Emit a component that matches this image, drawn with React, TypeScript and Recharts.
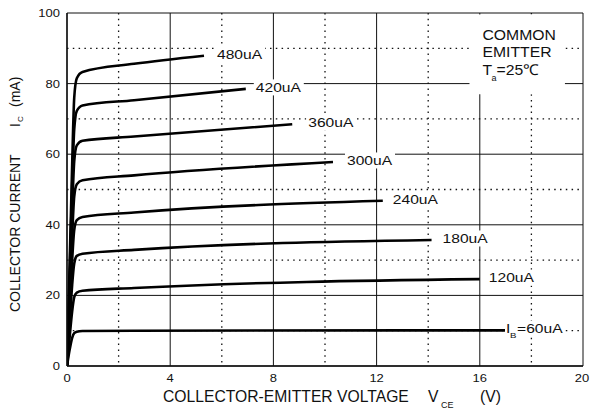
import { LineChart, Line, XAxis, YAxis, CartesianGrid, ReferenceArea } from 'recharts';

const FONT = '"Liberation Sans", Arial, Helvetica, sans-serif';

// V_CE (V), I_C (mA)
const CURVE_480 = [[0, 0], [0.1, 28], [0.2, 57], [0.28, 76], [0.38, 81.5], [0.6, 83.3], [2.6, 85.6], [5.31, 87.9]];
const CURVE_420 = [[0, 0], [0.1, 25], [0.2, 51], [0.28, 67], [0.38, 72.3], [0.6, 73.8], [2.6, 75.3], [6.93, 78.5]];
const CURVE_360 = [[0, 0], [0.1, 22], [0.2, 44], [0.28, 58], [0.38, 62.5], [0.6, 63.8], [2.6, 65.0], [8.73, 68.5]];
const CURVE_300 = [[0, 0], [0.1, 19], [0.2, 37], [0.28, 48], [0.38, 51.5], [0.6, 52.6], [2.6, 54.0], [10.31, 57.8]];
const CURVE_240 = [[0, 0], [0.1, 15], [0.2, 30], [0.28, 38.5], [0.38, 41.3], [0.6, 42.2], [2.6, 43.5], [12.24, 46.8]];
const CURVE_180 = [[0, 0], [0.1, 11.5], [0.2, 23], [0.28, 29], [0.38, 31.2], [0.6, 31.8], [2.6, 32.9], [14.13, 35.7]];
const CURVE_120 = [[0, 0], [0.1, 8], [0.2, 15.5], [0.28, 19.5], [0.38, 20.8], [0.6, 21.3], [2.6, 22.1], [16.0, 24.6]];
const CURVE_60 = [[0, 0], [0.1, 4.5], [0.2, 8], [0.28, 9.3], [0.38, 9.7], [0.6, 9.9], [2.6, 10.0], [16.98, 10.1]];

const CURVES = [CURVE_480, CURVE_420, CURVE_360, CURVE_300, CURVE_240, CURVE_180, CURVE_120, CURVE_60];
const IB_LABELS = ['480uA', '420uA', '360uA', '300uA', '240uA', '180uA', '120uA', 'I_B=60uA'];

const X_TICKS = [0, 4, 8, 12, 16, 20];
const Y_TICKS = [0, 20, 40, 60, 80, 100];
const X_MINOR = [2, 6, 10, 14, 18];
const Y_MINOR = [10, 30, 50, 70, 90];

// gap between end of curve and its label, px
const LABEL_DX = [13, 10, 16, 14, 10, 11, 9, 0];

const series = CURVES.map(pts => pts.map(([v, i]) => ({ v, i })));

function XTick({ x, y, payload }: any) {
  return (
    <text transform={`translate(${x},${y + 16}) scale(1.18,1)`} textAnchor="middle" fontSize={11} fontFamily={FONT} fill="#111">
      {payload.value}
    </text>
  );
}

function YTick({ x, y, payload }: any) {
  return (
    <text transform={`translate(${x - 7},${y + 4}) scale(1.18,1)`} textAnchor="end" fontSize={11} fontFamily={FONT} fill="#111">
      {payload.value}
    </text>
  );
}

function curveLabel(text: string, dx: number, last: number) {
  return (p: any) => {
    if (p.index !== last) return null;
    const x = p.x + dx;
    const y = p.y - 1.5;
    if (text.startsWith('I_B')) {
      const rest = text.slice(3);
      return (
        <g fontFamily={FONT} fill="#111">
          <rect x={x} y={y - 8} width={59} height={16} fill="#fff" />
          <text transform={`translate(${x + 1},${y + 4.5}) scale(1.2,1)`} fontSize={13}>I</text>
          <text transform={`translate(${x + 5},${y + 9}) scale(1.2,1)`} fontSize={8}>B</text>
          <text transform={`translate(${x + 12},${y + 4.5}) scale(1.2,1)`} fontSize={13}>{rest}</text>
        </g>
      );
    }
    return (
      <g fontFamily={FONT} fill="#111">
        <rect x={x - 2} y={y - 8} width={50} height={16} fill="#fff" />
        <text transform={`translate(${x},${y + 4.5}) scale(1.2,1)`} fontSize={13}>{text}</text>
      </g>
    );
  };
}

function NoteLabel({ viewBox }: any) {
  const { x, y } = viewBox;
  const tx = x + 13;
  return (
    <g fontFamily={FONT} fill="#111">
      <text transform={`translate(${tx},${y + 26}) scale(1.05,1)`} fontSize={15}>COMMON</text>
      <text transform={`translate(${tx},${y + 43}) scale(1.05,1)`} fontSize={15}>EMITTER</text>
      <text transform={`translate(${tx},${y + 61}) scale(1.05,1)`} fontSize={15}>T</text>
      <text transform={`translate(${tx + 9},${y + 67})`} fontSize={9}>a</text>
      <text transform={`translate(${tx + 14},${y + 61}) scale(1.05,1)`} fontSize={15}>=25℃</text>
    </g>
  );
}

function XTitle({ viewBox }: any) {
  const { x, y } = viewBox;
  return (
    <g fontFamily={FONT} fill="#111" fontSize={15.7}>
      <text x={x + 96} y={y + 36}>COLLECTOR-EMITTER VOLTAGE</text>
      <text x={x + 361} y={y + 36}>V</text>
      <text x={x + 374} y={y + 42} fontSize={9}>CE</text>
      <text x={x + 413} y={y + 36}>(V)</text>
    </g>
  );
}

function YTitle({ viewBox }: any) {
  const { x, y } = viewBox;
  return (
    <g transform={`translate(${x + 20},${y + 299}) rotate(-90)`} fontFamily={FONT} fill="#111" fontSize={14}>
      <text x={0} y={0}>COLLECTOR CURRENT</text>
      <text x={185} y={0}>I</text>
      <text x={190} y={3} fontSize={8}>C</text>
      <text x={205} y={0}>(mA)</text>
    </g>
  );
}

export default function App() {
  return (
    <div style={{ position: 'absolute', left: 0, top: 0, width: 590, height: 410, background: '#fff' }}>
      <LineChart width={590} height={410} margin={{ top: 13, right: 7, left: 0, bottom: 0 }}>
        <CartesianGrid stroke="#111" strokeWidth={1} horizontalValues={Y_TICKS} verticalValues={X_TICKS} />
        <CartesianGrid stroke="#111" strokeWidth={1.3} strokeDasharray="1.5 4.3" horizontalValues={Y_MINOR} verticalValues={X_MINOR} />
        <XAxis type="number" dataKey="v" domain={[0, 20]} ticks={X_TICKS} allowDataOverflow height={44}
          axisLine={{ stroke: '#111', strokeWidth: 1.4 }} tickLine={false} tickSize={0} tickMargin={0} tick={<XTick />}
          label={<XTitle />} />
        <YAxis type="number" dataKey="i" domain={[0, 100]} ticks={Y_TICKS} allowDataOverflow width={67}
          axisLine={{ stroke: '#111', strokeWidth: 1.4 }} tickLine={false} tickSize={0} tickMargin={0} tick={<YTick />}
          label={<YTitle />} />
        <ReferenceArea x1={15.6} x2={19.3} y1={77} y2={99.6} fill="#fff" fillOpacity={1} stroke="none" label={<NoteLabel />} />
        {series.map((d, k) => (
          <Line key={IB_LABELS[k]} data={d} dataKey="i" type="monotone" stroke="#000" strokeWidth={2.6}
            dot={false} activeDot={false} isAnimationActive={false}
            label={curveLabel(IB_LABELS[k], LABEL_DX[k], d.length - 1)} />
        ))}
      </LineChart>
    </div>
  );
}
